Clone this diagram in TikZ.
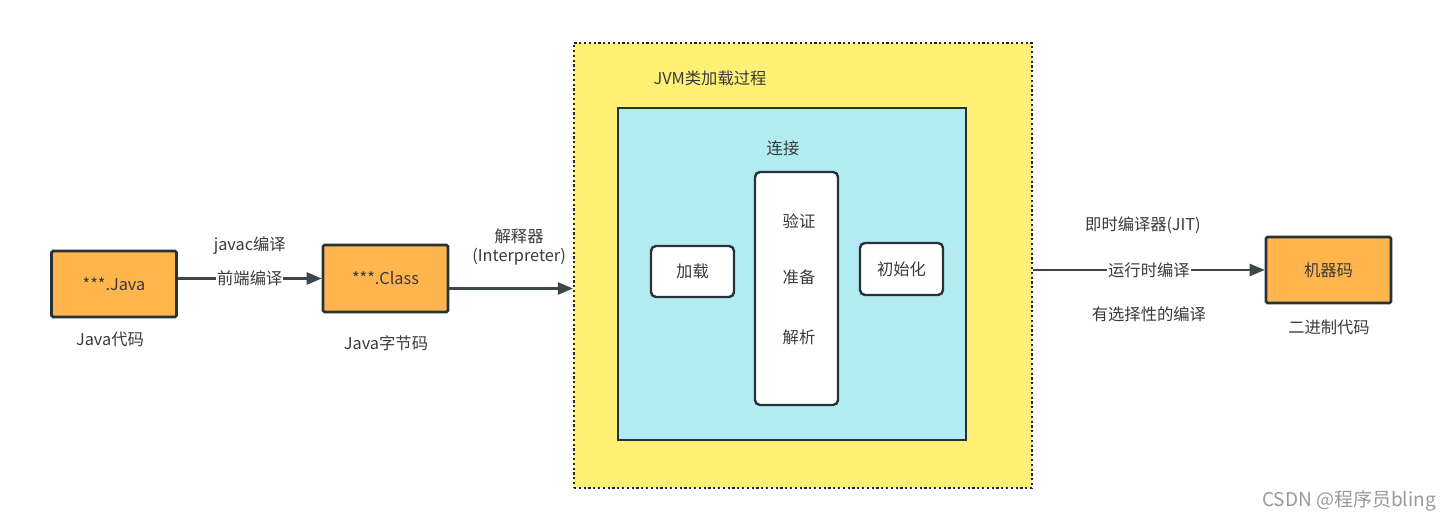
\documentclass[tikz,border=0pt]{standalone}
\usepackage{fontspec}
\setmainfont{Noto Sans CJK SC}
\usetikzlibrary{arrows.meta}
\definecolor{codeorange}{HTML}{FFB54D}
\definecolor{jvmyellow}{HTML}{FFF176}
\definecolor{linkcyan}{HTML}{B2EBF2}
\definecolor{edgegray}{HTML}{263238}
\definecolor{textgray}{HTML}{3A3A3A}
\tikzset{
  codebox/.style={draw=edgegray, line width=2.6pt, fill=codeorange, rounded corners=1.5pt,
    minimum width=125pt, minimum height=66pt, text=textgray},
  stagebox/.style={draw=edgegray, line width=2.4pt, fill=white, rounded corners=5pt,
    minimum width=83pt, minimum height=51pt, text=textgray},
  note/.style={text=textgray, inner sep=1pt},
  flow/.style={draw=edgegray!90, line width=2.4pt, -{Triangle[length=15pt,width=12pt]}},
  online/.style={fill=white, text=textgray, inner sep=1pt}
}
\begin{document}
\begin{tikzpicture}[x=1pt, y=-1pt, font=\fontsize{16.3}{19}\selectfont]
  \useasboundingbox (0,0) rectangle (1451,521);
  % the class loading frame
  \node (jvm) [draw=black!85, line width=2.2pt, dash pattern=on 2.2pt off 2.6pt, fill=jvmyellow,
    minimum width=458pt, minimum height=445pt] at (803,265.5) {};
  \node (link) [draw=edgegray, line width=2.6pt, fill=linkcyan,
    minimum width=348pt, minimum height=332pt] at (792,274) {};
  \node [note] at (710,78) {JVM类加载过程};
  \node [note] at (783,148) {连接};
  \node (load) [stagebox] at (692.5,271.5) {加载};
  \node (verify) [stagebox, minimum height=233pt] at (796.5,288.5) {};
  \node [note] at (799,221) {验证};
  \node [note] at (799,277) {准备};
  \node [note] at (799,337) {解析};
  \node (init) [stagebox, minimum height=52pt] at (901.5,269) {初始化};
  % code forms
  \node (java) [codebox] at (114,284) {***.Java};
  \node [note] at (110,339) {Java代码};
  \node (class) [codebox, minimum height=67pt] at (385.5,278.5) {***.Class};
  \node [note] at (386,343) {Java字节码};
  \node (machine) [codebox] at (1328.5,270) {机器码};
  \node [note] at (1329,327) {二进制代码};
  % compile steps
  \draw [flow] (java.east |- class.west) -- (class.west)
    node [midway, online] {前端编译}
    node [midway, note, yshift=33pt] {javac编译};
  \draw [flow] ([yshift=-10pt]class.east) -- ([yshift=-10pt]class.east -| jvm.west)
    node [midway, note, align=center, yshift=41pt, xshift=8pt] {解释器\\(Interpreter)};
  \draw [flow] (jvm.east |- machine.west) -- (machine.west)
    node [midway, online] {运行时编译}
    node [midway, note, yshift=45pt, xshift=-6pt] {即时编译器(JIT)}
    node [midway, note, yshift=-44pt] {有选择性的编译};
  \node [text=black!40, inner sep=0pt, font=\fontsize{19}{22}\selectfont] at (1349,501) {CSDN @程序员bling};
\end{tikzpicture}
\end{document}
